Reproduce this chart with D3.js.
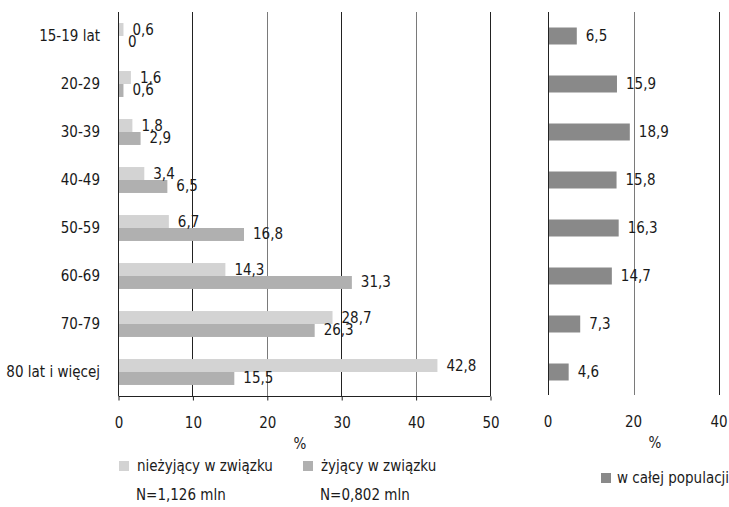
<!DOCTYPE html>
<html>
<head>
<meta charset="utf-8">
<script src="https://cdn.jsdelivr.net/npm/d3@7/dist/d3.min.js"></script>
<style>
  html, body { margin: 0; padding: 0; background: #fff; }
  svg { display: block; font-family: "Liberation Sans Narrow", "DejaVu Sans Condensed", "Arial Narrow", sans-serif; }
  text { fill: #1a1a1a; }
</style>
</head>
<body>
<svg id="chart" width="729" height="507"></svg>
<script>
// Age groups
const categories = ["15-19 lat", "20-29", "30-39", "40-49", "50-59", "60-69", "70-79", "80 lat i więcej"];
// Share (%) of each age group
const notInUnion = [0.6, 1.6, 1.8, 3.4, 6.7, 14.3, 28.7, 42.8];
const inUnion = [0.0, 0.6, 2.9, 6.5, 16.8, 31.3, 26.3, 15.5];
const wholePopulation = [6.5, 15.9, 18.9, 15.8, 16.3, 14.7, 7.3, 4.6];
// Series names and sample sizes
const seriesNames = ["nieżyjący w związku", "żyjący w związku"];
const seriesN = ["N=1,126 mln", "N=0,802 mln"];
const populationName = "w całej populacji";
// Axis ticks
const leftTicks = [0, 10, 20, 30, 40, 50];
const rightTicks = [0, 20, 40];
const axisTitle = "%";

const colors = { light: "#d3d3d3", mid: "#b0b0b0", dark: "#898989" };
const pl = d3.formatLocale({ decimal: ",", thousands: " ", grouping: [3], currency: ["", " zł"] });
const fmt = pl.format(".1~f");

const svg = d3.select("#chart");
const plotTop = 12, plotBottom = 396;

// ---------- left panel ----------
const xL = d3.scaleLinear().domain([0, 50]).range([118, 490]);
const y0 = d3.scaleBand().domain(categories).range([plotTop, plotBottom]).paddingInner(0.46).paddingOuter(0.23);
const y1 = d3.scaleBand().domain(seriesNames).range([0, y0.bandwidth()]);

const gL = svg.append("g");
// vertical grid lines (behind bars)
gL.selectAll("line.grid").data(leftTicks).join("line")
  .attr("x1", d => Math.round(xL(d)) + 0.5).attr("x2", d => Math.round(xL(d)) + 0.5)
  .attr("y1", plotTop).attr("y2", plotBottom)
  .attr("stroke", d => (d === 20 || d === 40) ? "#7a7a7a" : "#222")
  .attr("stroke-width", 1);
// bottom axis
const axL = d3.axisBottom(xL).tickValues(leftTicks).tickSize(4).tickFormat(d => d);
const axLg = gL.append("g").attr("transform", `translate(0.5,${plotBottom + 0.5})`).call(axL);
axLg.select(".domain").attr("stroke", "#222").attr("d", `M${xL(0)},0H${xL(50)}`);
axLg.selectAll(".tick line").attr("stroke", "#222");
axLg.selectAll(".tick text").attr("dy", 0).attr("y", 31).attr("font-size", 15)
  .attr("font-family", null).attr("fill", "#1a1a1a");
axLg.attr("font-family", null).attr("font-size", null);

// category labels
gL.selectAll("text.cat").data(categories).join("text")
  .attr("x", 100).attr("y", d => y0(d) + y0.bandwidth() / 2)
  .attr("text-anchor", "end").attr("dominant-baseline", "central")
  .attr("font-size", 15).text(d => d);

const leftRows = categories.map((c, i) => ({ c, vals: [notInUnion[i], inUnion[i]] }));
const rowG = gL.selectAll("g.row").data(leftRows).join("g")
  .attr("transform", d => `translate(0,${y0(d.c)})`);
rowG.selectAll("rect").data(d => d.vals.map((v, k) => ({ v, k }))).join("rect")
  .attr("x", xL(0) + 1)
  .attr("y", d => y1(seriesNames[d.k]))
  .attr("width", d => Math.max(0, xL(d.v) - xL(0)))
  .attr("height", y1.bandwidth())
  .attr("fill", d => d.k === 0 ? colors.light : colors.mid);
rowG.selectAll("text").data(d => d.vals.map((v, k) => ({ v, k }))).join("text")
  .attr("x", d => xL(d.v) + 10)
  .attr("y", d => y1(seriesNames[d.k]) + y1.bandwidth() / 2)
  .attr("dominant-baseline", "central").attr("font-size", 15)
  .text(d => fmt(d.v));

svg.append("text").attr("x", 300).attr("y", 444).attr("text-anchor", "middle")
  .attr("dominant-baseline", "central").attr("font-size", 15).text(axisTitle);

// legend (left)
const legL = svg.append("g");
[[119, 0], [303, 1]].forEach(([lx, k]) => {
  legL.append("rect").attr("x", lx).attr("y", 461).attr("width", 10).attr("height", 10)
    .attr("fill", k === 0 ? colors.light : colors.mid);
  legL.append("text").attr("x", lx + 18).attr("y", 466).attr("dominant-baseline", "central")
    .attr("font-size", 15).text(seriesNames[k]);
  legL.append("text").attr("x", lx + 17).attr("y", 495).attr("dominant-baseline", "central")
    .attr("font-size", 15).text(seriesN[k]);
});

// ---------- right panel ----------
const xR = d3.scaleLinear().domain([0, 40]).range([548, 719]);
const yR = d3.scaleBand().domain(categories).range([plotTop, plotBottom]).paddingInner(0.646).paddingOuter(0.323);
const gR = svg.append("g");
gR.selectAll("line.grid").data(rightTicks).join("line")
  .attr("x1", d => Math.round(xR(d)) + 0.5).attr("x2", d => Math.round(xR(d)) + 0.5)
  .attr("y1", plotTop).attr("y2", plotBottom - 1)
  .attr("stroke", d => d === 20 ? "#7a7a7a" : "#222");
gR.selectAll("rect").data(wholePopulation).join("rect")
  .attr("x", xR(0) + 1)
  .attr("y", (d, i) => yR(categories[i]))
  .attr("width", d => xR(d) - xR(0))
  .attr("height", yR.bandwidth())
  .attr("fill", colors.dark);
gR.selectAll("text.val").data(wholePopulation).join("text")
  .attr("x", d => xR(d) + 10)
  .attr("y", (d, i) => yR(categories[i]) + yR.bandwidth() / 2)
  .attr("dominant-baseline", "central").attr("font-size", 15)
  .text(d => fmt(d));
gR.selectAll("text.tick").data(rightTicks).join("text")
  .attr("x", d => xR(d)).attr("y", 422).attr("text-anchor", "middle")
  .attr("dominant-baseline", "central").attr("font-size", 15).text(d => d);
svg.append("text").attr("x", 655).attr("y", 443).attr("text-anchor", "middle")
  .attr("dominant-baseline", "central").attr("font-size", 15).text(axisTitle);
svg.append("rect").attr("x", 601).attr("y", 473).attr("width", 10).attr("height", 10).attr("fill", colors.dark);
svg.append("text").attr("x", 617).attr("y", 478).attr("dominant-baseline", "central")
  .attr("font-size", 15).text(populationName);
</script>
</body>
</html>
